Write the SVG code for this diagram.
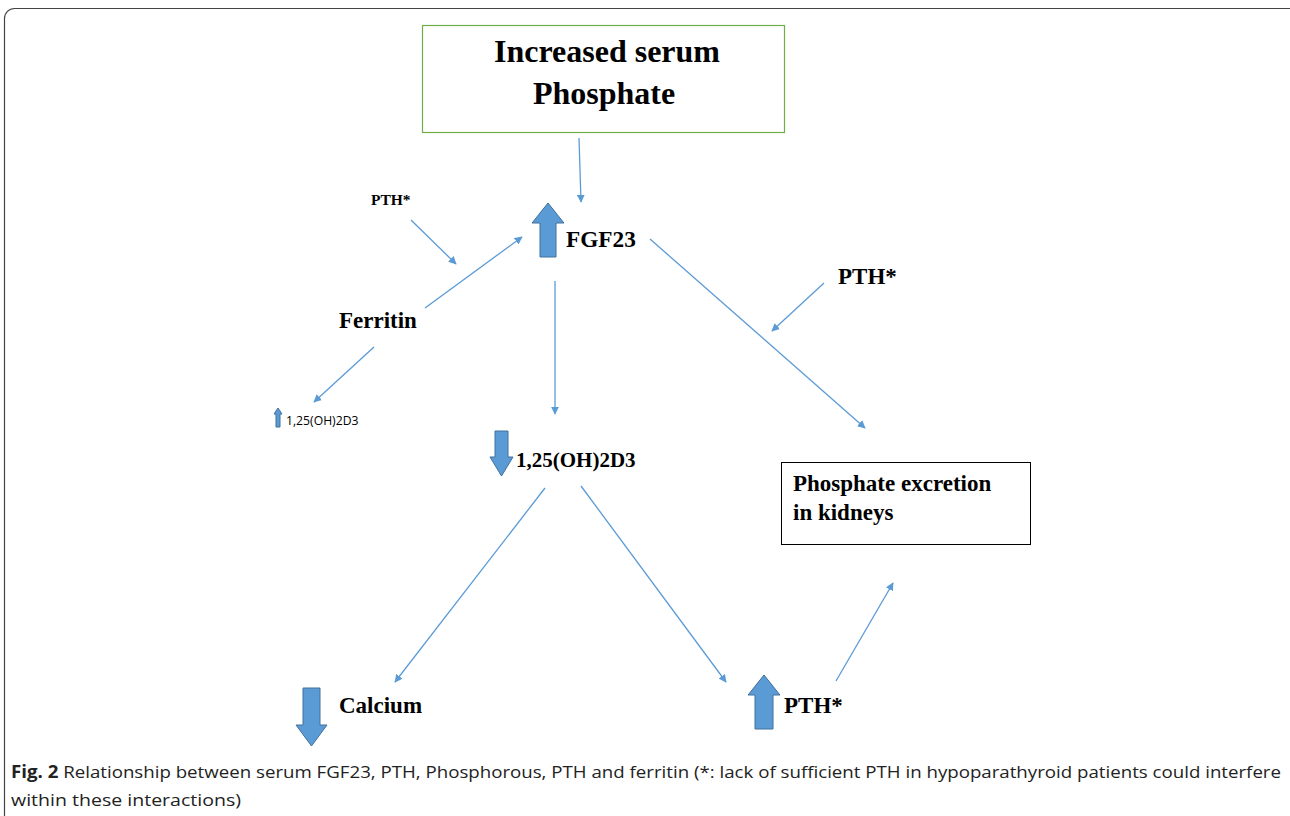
<svg xmlns="http://www.w3.org/2000/svg" width="1290" height="816" viewBox="0 0 1290 816">
<style>
.t{font-family:"Liberation Serif",serif;font-weight:bold;fill:#000}
.c{stroke:#5B9BD5;stroke-width:1.3;fill:none;marker-end:url(#ah)}
.ba{fill:#5B9BD5;stroke:#41719C;stroke-width:1}
.cap{font-family:"Open Sans","Liberation Sans",sans-serif;font-size:17px;fill:#222}
</style>
<defs>
<marker id="ah" viewBox="0 0 10 10" refX="9" refY="5" markerWidth="8" markerHeight="8" orient="auto" markerUnits="userSpaceOnUse">
<path d="M0,0 L10,5 L0,10 z" fill="#5B9BD5"/>
</marker>
</defs>
<rect x="0" y="0" width="1290" height="816" fill="#fff"/>
<rect x="4.5" y="8.5" width="1300" height="830" rx="10" fill="none" stroke="#444" stroke-width="1.2"/>

<g id="phosphate">
<rect x="422.5" y="25.5" width="362" height="107" fill="#fff" stroke="#70AD47" stroke-width="1.2"/>
<text class="t" x="607" y="62" font-size="32" text-anchor="middle">Increased serum</text>
<text class="t" x="604" y="104" font-size="32" text-anchor="middle">Phosphate</text>
</g>

<g id="fgf23">
<path class="ba" d="M548,203 L564,223 L556,223 L556,257 L540,257 L540,223 L532,223 Z"/>
<text class="t" x="566" y="247" font-size="23.3">FGF23</text>
</g>

<g id="pth-top">
<text class="t" x="371" y="205" font-size="15.5">PTH*</text>
</g>

<g id="ferritin">
<text class="t" x="339" y="328" font-size="23">Ferritin</text>
</g>

<g id="vitd-small">
<path class="ba" d="M278,408 L282,414 L280,414 L280,427 L276,427 L276,414 L274,414 Z"/>
<text x="286" y="425" font-family="Open Sans,Liberation Sans,sans-serif" font-size="12.2" fill="#000">1,25(OH)2D3</text>
</g>

<g id="vitd">
<path class="ba" d="M495,431 L508,431 L508,457 L513,457 L501.5,476 L490,457 L495,457 Z"/>
<text class="t" x="516" y="467" font-size="21">1,25(OH)2D3</text>
</g>

<g id="pth-right">
<text class="t" x="838" y="284" font-size="23">PTH*</text>
</g>

<g id="excretion">
<rect x="781.5" y="462.5" width="249" height="82" fill="#fff" stroke="#000" stroke-width="1"/>
<text class="t" x="793" y="491" font-size="23">Phosphate excretion</text>
<text class="t" x="793" y="520" font-size="23">in kidneys</text>
</g>

<g id="calcium">
<path class="ba" d="M303,688 L320,688 L320,725 L327,725 L311.5,746 L296,725 L303,725 Z"/>
<text class="t" x="339" y="713" font-size="23">Calcium</text>
</g>

<g id="pth-bottom">
<path class="ba" d="M764,675 L780,695 L773,695 L773,729 L755,729 L755,695 L748,695 Z"/>
<text class="t" x="784" y="713" font-size="23">PTH*</text>
</g>

<g id="connectors">
<line class="c" x1="579" y1="138" x2="581" y2="202"/>
<line class="c" x1="411" y1="220" x2="456" y2="264"/>
<line class="c" x1="425" y1="308" x2="522" y2="237"/>
<line class="c" x1="374" y1="347" x2="314" y2="402"/>
<line class="c" x1="555" y1="281" x2="555" y2="414"/>
<line class="c" x1="650" y1="239" x2="865" y2="428"/>
<line class="c" x1="824" y1="283" x2="772" y2="331"/>
<line class="c" x1="545" y1="488" x2="395" y2="682"/>
<line class="c" x1="581" y1="486" x2="726" y2="682"/>
<line class="c" x1="836" y1="681" x2="893" y2="583"/>
</g>

<g id="caption">
<text class="cap" x="11" y="778" textLength="1270" lengthAdjust="spacingAndGlyphs"><tspan font-weight="bold">Fig. 2</tspan> Relationship between serum FGF23, PTH, Phosphorous, PTH and ferritin (*: lack of sufficient PTH in hypoparathyroid patients could interfere</text>
<text class="cap" x="11" y="806" textLength="230" lengthAdjust="spacingAndGlyphs">within these interactions)</text>
</g>
</svg>
